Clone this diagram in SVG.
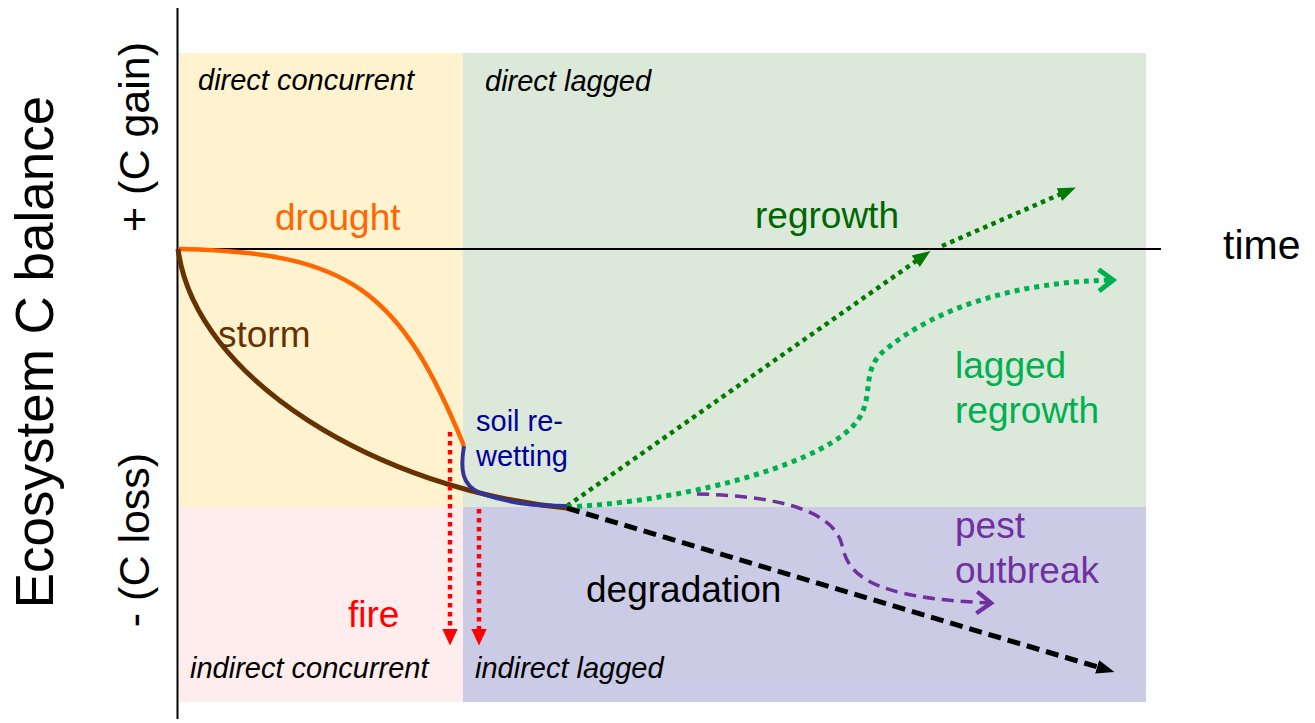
<svg xmlns="http://www.w3.org/2000/svg" width="1315" height="723" viewBox="0 0 1315 723">
<style>
text{font-family:"Liberation Sans",Arial,sans-serif}
.quad{font-size:29px;font-style:italic;fill:#000}
.lbl{font-size:37px}
.ax{font-size:43px;fill:#000}
</style>
<defs>
<marker id="triG" markerUnits="userSpaceOnUse" markerWidth="20" markerHeight="20" refX="4" refY="8" orient="auto" viewBox="0 0 20 16"><path d="M0,1 L18,8 L0,15 Z" fill="#007A00"/></marker>
<marker id="triK" markerUnits="userSpaceOnUse" markerWidth="20" markerHeight="20" refX="4" refY="8" orient="auto" viewBox="0 0 20 16"><path d="M0,1 L18,8 L0,15 Z" fill="#000"/></marker>
<marker id="triR" markerUnits="userSpaceOnUse" markerWidth="18" markerHeight="18" refX="3" refY="7" orient="auto" viewBox="0 0 16 14"><path d="M0,0 L15,7 L0,14 Z" fill="#FF0000"/></marker>
<marker id="chevL" markerUnits="userSpaceOnUse" markerWidth="24" markerHeight="24" refX="14" refY="10" orient="auto" viewBox="0 0 20 20" overflow="visible"><path d="M3,1 L15,10 L3,19" fill="none" stroke="#00B050" stroke-width="4"/></marker>
<marker id="chevP" markerUnits="userSpaceOnUse" markerWidth="24" markerHeight="24" refX="14" refY="10" orient="auto" viewBox="0 0 20 20" overflow="visible"><path d="M3,1 L15,10 L3,19" fill="none" stroke="#7030A0" stroke-width="3.5"/></marker>
</defs>
<rect width="1315" height="723" fill="#fff"/>
<g id="quadrants">
<rect x="179" y="53" width="284" height="454" fill="#FFF2CF"/>
<rect x="463" y="53" width="683" height="454" fill="#DBE8DA"/>
<rect x="179" y="507" width="284" height="195" fill="#FFECEC"/>
<rect x="463" y="507" width="683" height="195" fill="#CBCBE6"/>
</g>
<g id="axes" stroke="#000" stroke-width="2" fill="none">
<line x1="177.5" y1="8" x2="177.5" y2="719"/>
<line x1="177" y1="249" x2="1161" y2="249"/>
</g>
<g id="connectors" fill="none">
<path id="drought-curve" d="M178,249 C350,252 400,290 464,446" stroke="#FF6600" stroke-width="4.5"/>
<path id="storm-curve" d="M178,249 C195,380 380,490 567,508" stroke="#663300" stroke-width="5"/>
<path id="rewetting-curve" d="M464,446 C460,470 462,485 480,493 C510,503 530,506 567,506" stroke="#333399" stroke-width="4"/>
<line id="fire1" x1="450" y1="432" x2="450" y2="632" stroke="#FF0000" stroke-width="4.5" stroke-dasharray="4.5 4.5" marker-end="url(#triR)"/>
<line id="fire2" x1="479" y1="509" x2="479" y2="632" stroke="#FF0000" stroke-width="4.5" stroke-dasharray="4.5 4.5" marker-end="url(#triR)"/>
<path id="regrowth1" d="M567,506 L919,259" stroke="#007A00" stroke-width="4.5" stroke-dasharray="4.5 4.5" marker-end="url(#triG)"/>
<path id="regrowth2" d="M942,246 L1063,193" stroke="#007A00" stroke-width="4.5" stroke-dasharray="4.5 4.5" marker-end="url(#triG)"/>
<path id="lagged" d="M567,507 C700,500 830,460 858,420 C875,395 860,370 885,350 C940,305 1020,282 1112,280" stroke="#00B050" stroke-width="5" stroke-dasharray="5 5" marker-end="url(#chevL)"/>
<path id="pest" d="M697,494 C790,496 835,515 842,545 C848,575 870,598 990,603" stroke="#7030A0" stroke-width="3.5" stroke-dasharray="12 7" marker-end="url(#chevP)"/>
<path id="degradation" d="M567,508 L1101,668" stroke="#000" stroke-width="5" stroke-dasharray="13 7" marker-end="url(#triK)"/>
</g>
<g id="labels">
<text class="quad" x="198" y="90">direct concurrent</text>
<text class="quad" x="485" y="91">direct lagged</text>
<text class="quad" x="190" y="678">indirect concurrent</text>
<text class="quad" x="475" y="678">indirect lagged</text>
<text class="lbl" x="275" y="230" fill="#FF6600">drought</text>
<text class="lbl" x="218" y="347" fill="#663300">storm</text>
<text x="476" y="431" font-size="29" fill="#000099">soil re-</text>
<text x="476" y="466" font-size="29" fill="#000099">wetting</text>
<text class="lbl" x="348" y="627" fill="#FF0000">fire</text>
<text class="lbl" x="755" y="228" fill="#006600">regrowth</text>
<text class="lbl" x="955" y="378" fill="#00B050">lagged</text>
<text class="lbl" x="955" y="423" fill="#00B050">regrowth</text>
<text class="lbl" x="955" y="538" fill="#7030A0">pest</text>
<text class="lbl" x="955" y="583" fill="#7030A0">outbreak</text>
<text class="lbl" x="586" y="602" fill="#000">degradation</text>
<text x="1223" y="259" font-size="41" fill="#000">time</text>
<text x="0" y="0" font-size="53" fill="#000" text-anchor="middle" transform="translate(53,352) rotate(-90)">Ecosystem C balance</text>
<text x="0" y="0" class="ax" text-anchor="middle" transform="translate(149,137) rotate(-90)">+ (C gain)</text>
<text x="0" y="0" class="ax" text-anchor="middle" transform="translate(149,540) rotate(-90)">- (C loss)</text>
</g>
</svg>
